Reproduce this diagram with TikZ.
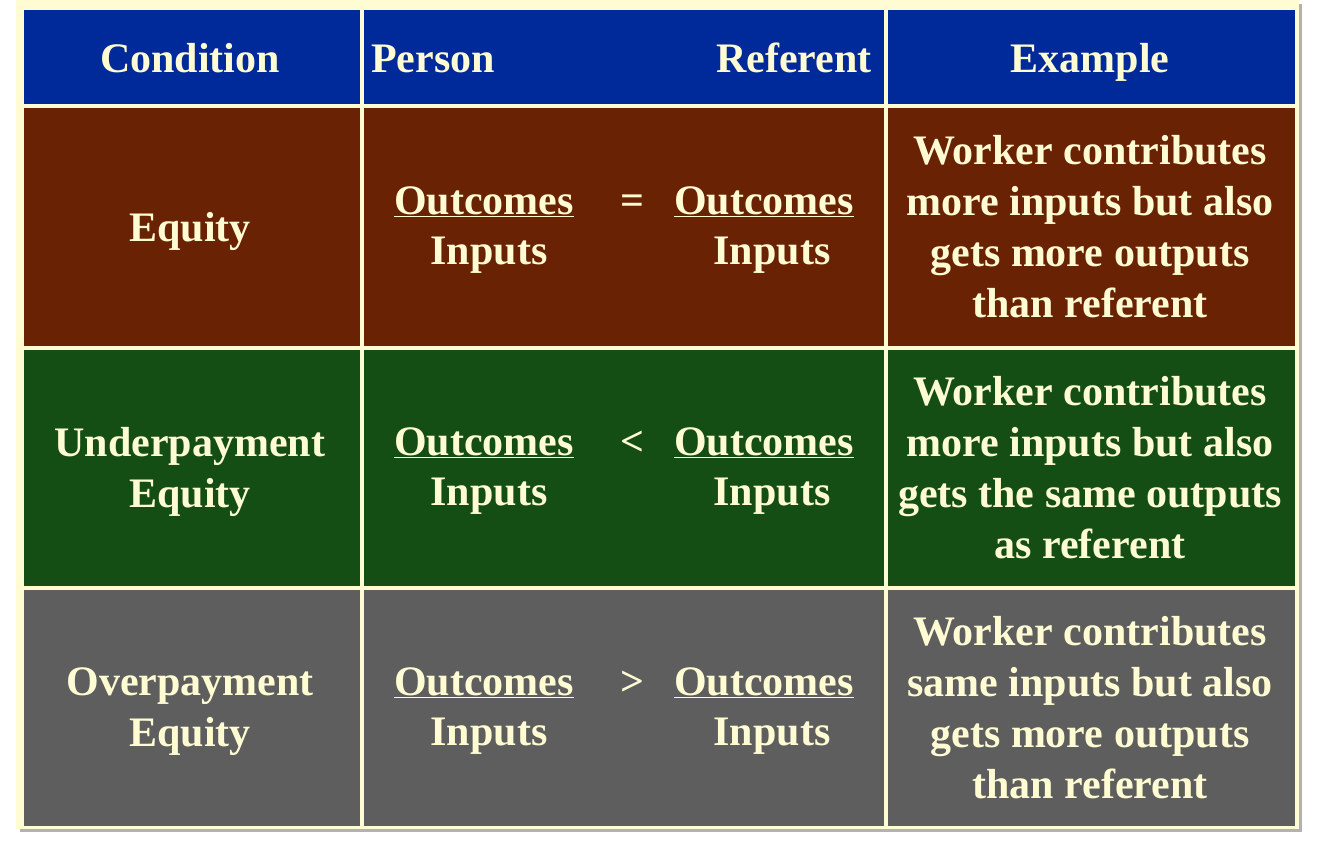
\documentclass[tikz,border=0pt]{standalone}
\usepackage{fontspec}
\setmainfont{Liberation Serif}
\begin{document}
\begin{tikzpicture}[x=1pt,y=-1pt,
  txt/.style={text=cream,font=\fontsize{42}{51}\selectfont\bfseries,align=center,inner sep=0pt}]
\definecolor{cream}{HTML}{FFFBD2}
\definecolor{hblue}{HTML}{00299A}
\definecolor{hbrown}{HTML}{6A2205}
\definecolor{hgreen}{HTML}{154E14}
\definecolor{hgray}{HTML}{5E5E5E}
\useasboundingbox (0,0) rectangle (1319,844);
\fill[white] (0,0) rectangle (1319,844);
\fill[gray!60] (20,4) rectangle (1302,832);
\fill[cream] (16,0) rectangle (1299,829);
% header
\fill[hblue] (24,10) rectangle (360,104);
\fill[hblue] (364,10) rectangle (884,104);
\fill[hblue] (888,10) rectangle (1295,104);
\foreach \y/\h/\c in {108/346/hbrown,350/586/hgreen,590/826/hgray}{
  \fill[\c] (24,\y) rectangle (360,\h);
  \fill[\c] (364,\y) rectangle (884,\h);
  \fill[\c] (888,\y) rectangle (1295,\h);
}
\node[txt,anchor=base] (h1) at (190,72) {Condition};
\node[txt,anchor=base west] (h2) at (371,72) {Person};
\node[txt,anchor=base east] (h3) at (872,72) {Referent};
\node[txt,anchor=base] (h4) at (1090,72) {Example};
% rows
\foreach \n/\yc/\cond/\sym/\exa in {
  a/227/{Equity}/{=}/{Worker contributes\\more inputs but also\\gets more outputs\\than referent},
  b/468/{Underpayment\\Equity}/{<}/{Worker contributes\\more inputs but also\\gets the same outputs\\as referent},
  c/708/{Overpayment\\Equity}/{>}/{Worker contributes\\same inputs but also\\gets more outputs\\than referent}}{
  \node[txt] (cond\n) at (190,\yc+4) {\cond};
  \node[txt,anchor=base] (po\n) at (484,\yc-13) {\underline{Outcomes}};
  \node[txt,anchor=base] (pi\n) at (489,\yc+37) {Inputs};
  \node[txt,anchor=base] (sym\n) at (632,\yc-13) {\sym};
  \node[txt,anchor=base] (ro\n) at (764,\yc-13) {\underline{Outcomes}};
  \node[txt,anchor=base] (ri\n) at (772,\yc+37) {Inputs};
  \node[txt] (ex\n) at (1090,\yc) {\exa};
}
\end{tikzpicture}
\end{document}
